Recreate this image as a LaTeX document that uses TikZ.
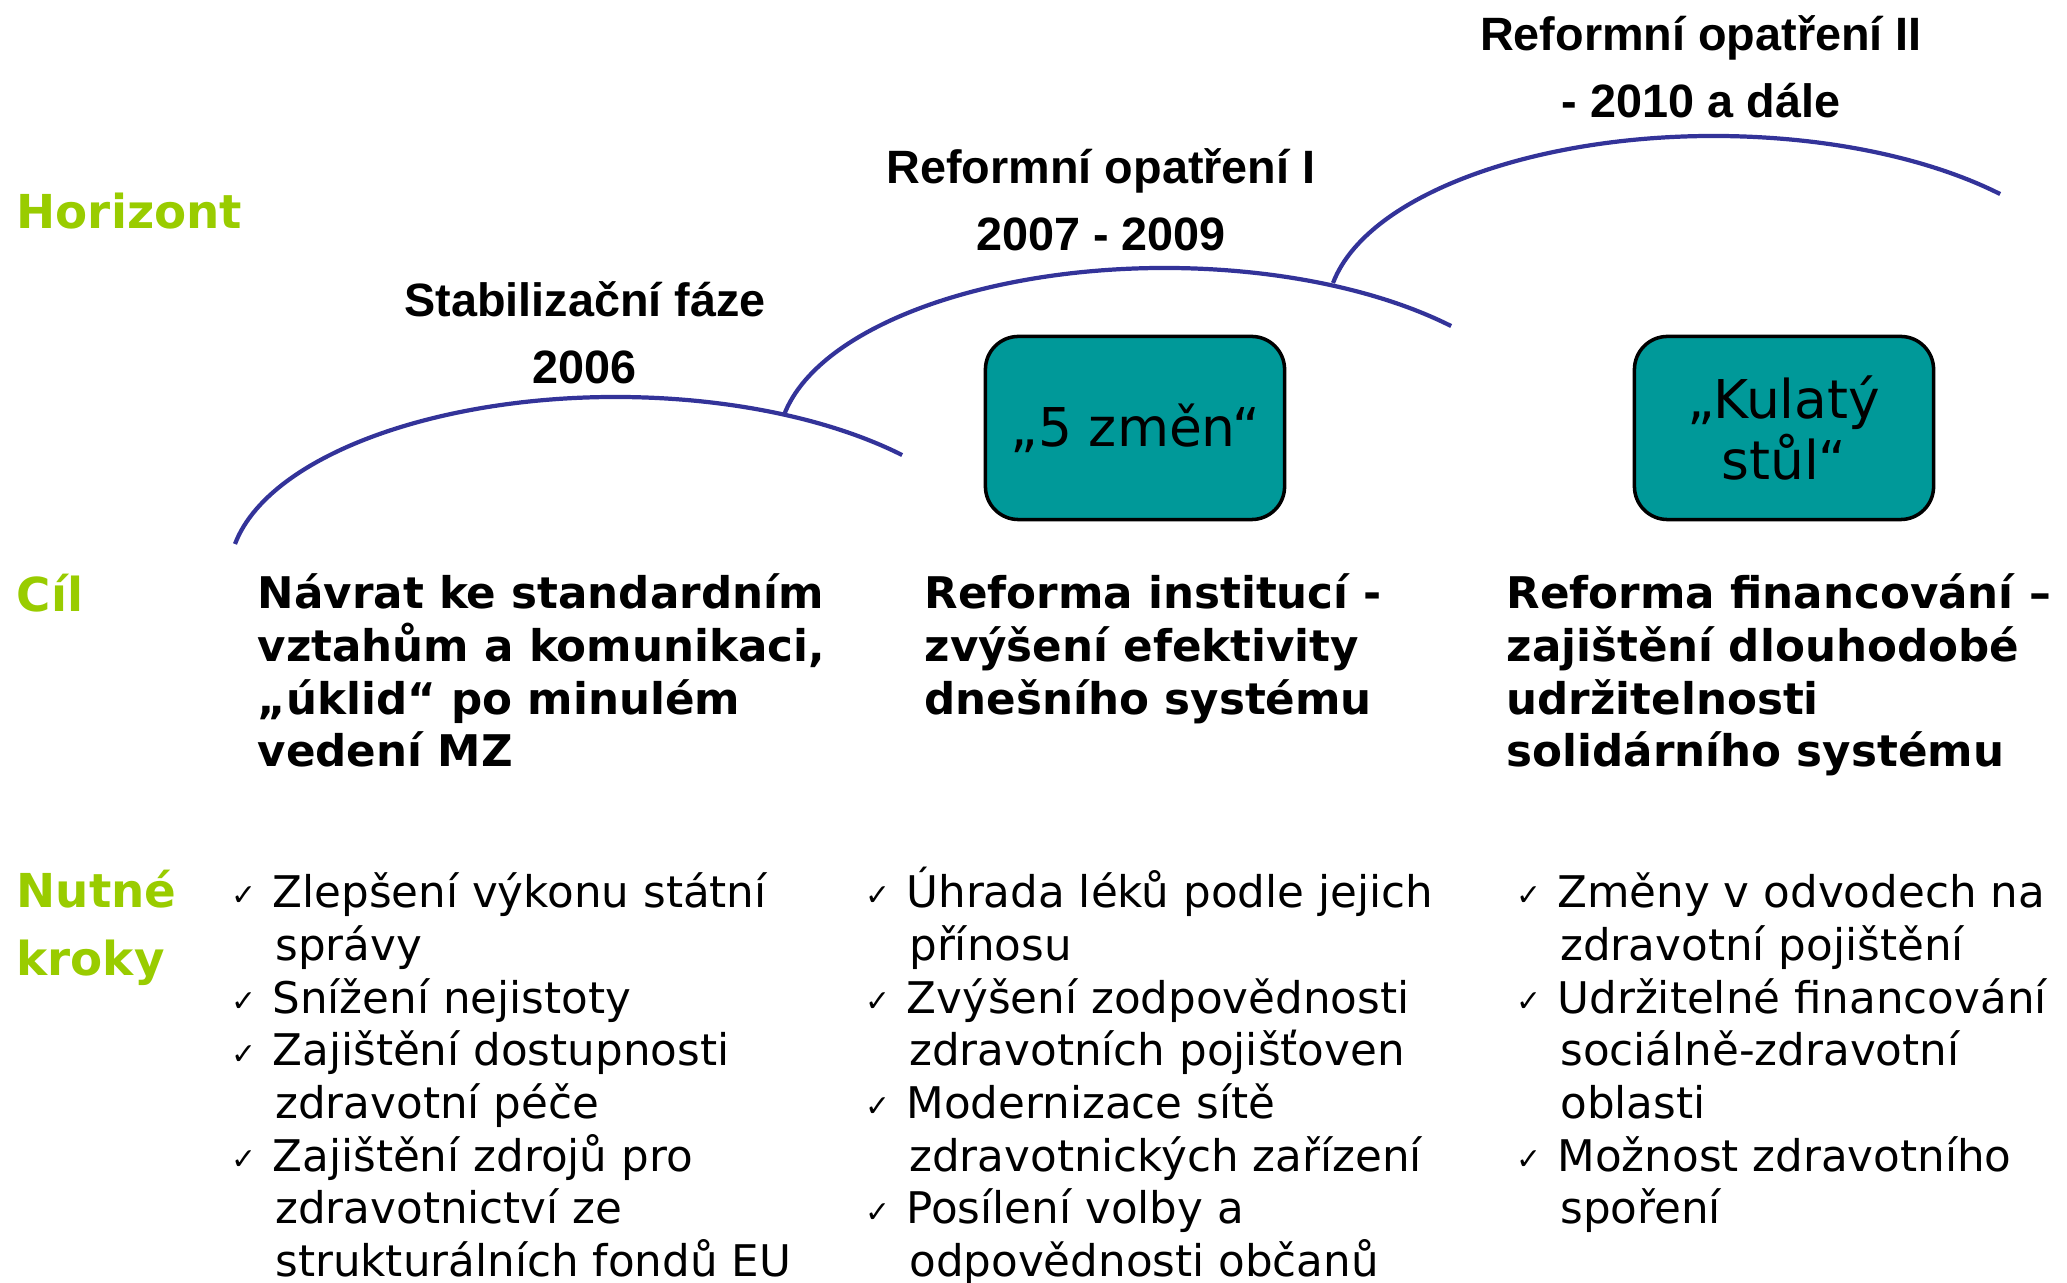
\documentclass[tikz,border=0pt]{standalone}
\usepackage{fontspec}
\setmainfont{DejaVu Sans}
\newfontfamily\arialfont{Liberation Sans}
\definecolor{limegreen}{HTML}{99CC00}
\definecolor{arcblue}{HTML}{333399}
\definecolor{boxteal}{HTML}{009999}
\newcommand{\chk}{\makebox[11.6pt][l]{\raisebox{0.5pt}{\fontsize{8.5}{8.5}\selectfont ✓}}}
\newcommand{\ind}{\hspace*{12.4pt}}

\begin{document}
\begin{tikzpicture}[x=0.01cm, y=0.01cm,
    side/.style={font=\fontsize{13.3}{19.5}\selectfont\bfseries, text=limegreen, anchor=west, inner sep=0pt, align=left},
    phase/.style={font=\arialfont\fontsize{13.3}{19}\selectfont\bfseries, align=center, inner sep=0pt},
    goal/.style={font=\fontsize{12.4}{15}\selectfont\bfseries, anchor=base west, inner sep=0pt},
    steps/.style={font=\fontsize{12.4}{15}\selectfont, anchor=base west, inner sep=0pt},
    toolbox/.style={draw=black, line width=1pt, fill=boxteal, rounded corners=9.4pt,
      minimum width=2.99cm, minimum height=1.83cm, font=\fontsize{15.2}{17.6}\selectfont, align=center},
    phasearc/.style={draw=arcblue, line width=1.2pt}]
  \useasboundingbox (0,0) rectangle (2067,1282);
  \clip (0,0) rectangle (2067,1282);

  % row labels
  \node[side] (horizont) at (16,1071) {Horizont};
  \node[side] (cil) at (16,689) {Cíl};
  \node[side] (kroky) at (16,354) {Nutné\\kroky};

  % phases
  \foreach \dx/\dy in {0/0, 549/129, 1098/261}
    \draw[phasearc] (235+\dx,738+\dy) arc[start angle=170.1, end angle=42.3, x radius=386.8, y radius=177.5];
  \node[phase] (stab) at (585,949) {Stabilizační fáze\\2006};
  \node[phase] (ref1) at (1101,1082) {Reformní opatření I\\2007 - 2009};
  \node[phase] (ref2) at (1701,1215) {Reformní opatření II\\- 2010 a dále};

  \node[toolbox] (zmeny) at (1135,854) {„5 změn“};
  \node[toolbox] (stul) at (1784,854) {„Kulatý\\stůl“};

  % goals
  \foreach \t [count=\i] in {Návrat ke standardním, {vztahům a komunikaci,}, „úklid“ po minulém, vedení MZ}
    \node[goal] (g1-\i) at (257,726-52.7*\i) {\t};
  \foreach \t [count=\i] in {Reforma institucí -, zvýšení efektivity, dnešního systému}
    \node[goal] (g2-\i) at (924,726-52.7*\i) {\t};
  \foreach \t [count=\i] in {Reforma financování –, zajištění dlouhodobé, udržitelnosti, solidárního systému}
    \node[goal] (g3-\i) at (1506,726-52.7*\i) {\t};

  % steps
  \foreach \t [count=\i] in {\chk Zlepšení výkonu státní, \ind správy, \chk Snížení nejistoty,
      \chk Zajištění dostupnosti, \ind zdravotní péče, \chk Zajištění zdrojů pro,
      \ind zdravotnictví ze, \ind strukturálních fondů EU}
    \node[steps] (s1-\i) at (231,427-52.7*\i) {\t};
  \foreach \t [count=\i] in {\chk Úhrada léků podle jejich, \ind přínosu, \chk Zvýšení zodpovědnosti,
      \ind zdravotních pojišťoven, \chk Modernizace sítě, \ind zdravotnických zařízení,
      \chk Posílení volby a, \ind odpovědnosti občanů}
    \node[steps] (s2-\i) at (865,427-52.7*\i) {\t};
  \foreach \t [count=\i] in {\chk Změny v odvodech na, \ind zdravotní pojištění, \chk Udržitelné financování,
      \ind sociálně-zdravotní, \ind oblasti, \chk Možnost zdravotního, \ind spoření}
    \node[steps] (s3-\i) at (1516,427-52.7*\i) {\t};
\end{tikzpicture}
\end{document}
